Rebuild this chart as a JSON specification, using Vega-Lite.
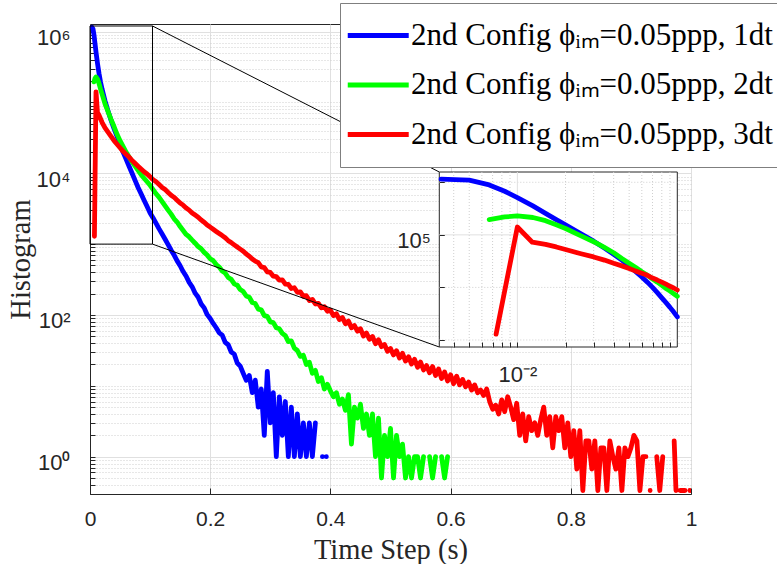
{
  "$schema": "https://vega.github.io/schema/vega-lite/v6.json",
  "width": 601,
  "height": 470,
  "autosize": {"type": "none"},
  "padding": {"left": 90, "top": 24, "right": 86, "bottom": 70},
  "background": "white",
  "config": {
    "view": {"stroke": "#262626", "strokeWidth": 1},
    "axis": {
      "domainColor": "#262626", "tickColor": "#262626", "labelColor": "#262626", "titleColor": "#262626",
      "labelFont": "Liberation Sans", "labelFontSize": 21, "titleFont": "Liberation Serif", "titleFontSize": 28.5,
      "titleFontWeight": "normal", "labelFlush": false, "labelOverlap": false, "labelBound": false
    }
  },
  "datasets": {
    "curves": [
      {"s":"1dt","t":0.00333,"v":1150000},{"s":"1dt","t":0.005,"v":1096000},{"s":"1dt","t":0.00667,"v":891000},{"s":"1dt","t":0.00833,"v":676000},
      {"s":"1dt","t":0.01,"v":513000},{"s":"1dt","t":0.0125,"v":355000},{"s":"1dt","t":0.015,"v":257000},{"s":"1dt","t":0.0175,"v":195000},
      {"s":"1dt","t":0.02,"v":155000},{"s":"1dt","t":0.025,"v":105000},{"s":"1dt","t":0.03,"v":75900},{"s":"1dt","t":0.035,"v":56200},
      {"s":"1dt","t":0.04,"v":42700},{"s":"1dt","t":0.045,"v":33100},{"s":"1dt","t":0.05,"v":25700},{"s":"1dt","t":0.055,"v":19950},
      {"s":"1dt","t":0.06,"v":15850},{"s":"1dt","t":0.065,"v":12590},{"s":"1dt","t":0.07,"v":10000},{"s":"1dt","t":0.075,"v":7940},
      {"s":"1dt","t":0.08,"v":6310},{"s":"1dt","t":0.085,"v":5130},{"s":"1dt","t":0.09,"v":4170},{"s":"1dt","t":0.095,"v":3390},
      {"s":"1dt","t":0.1,"v":2750},{"s":"1dt","t":0.105,"v":2340},{"s":"1dt","t":0.11,"v":1960},{"s":"1dt","t":0.115,"v":1640},
      {"s":"1dt","t":0.12,"v":1390},{"s":"1dt","t":0.125,"v":1170},{"s":"1dt","t":0.13,"v":985},{"s":"1dt","t":0.135,"v":820},
      {"s":"1dt","t":0.14,"v":700},{"s":"1dt","t":0.145,"v":580},{"s":"1dt","t":0.15,"v":495},{"s":"1dt","t":0.155,"v":410},
      {"s":"1dt","t":0.16,"v":352},{"s":"1dt","t":0.165,"v":288},{"s":"1dt","t":0.17,"v":250},{"s":"1dt","t":0.175,"v":203},
      {"s":"1dt","t":0.18,"v":178},{"s":"1dt","t":0.185,"v":143},{"s":"1dt","t":0.19,"v":126},{"s":"1dt","t":0.195,"v":101},
      {"s":"1dt","t":0.2,"v":89},{"s":"1dt","t":0.205,"v":76},{"s":"1dt","t":0.21,"v":66},{"s":"1dt","t":0.215,"v":56},
      {"s":"1dt","t":0.22,"v":52},{"s":"1dt","t":0.225,"v":41},{"s":"1dt","t":0.23,"v":38},{"s":"1dt","t":0.235,"v":30},
      {"s":"1dt","t":0.24,"v":28},{"s":"1dt","t":0.245,"v":21},{"s":"1dt","t":0.25,"v":19},{"s":"1dt","t":0.255,"v":15},
      {"s":"1dt","t":0.26,"v":12},{"s":"1dt","t":0.265,"v":14},{"s":"1dt","t":0.27,"v":8},{"s":"1dt","t":0.275,"v":12},
      {"s":"1dt","t":0.28,"v":5},{"s":"1dt","t":0.285,"v":9},{"s":"1dt","t":0.29,"v":2},{"s":"1dt","t":0.295,"v":16},
      {"s":"1dt","t":0.3,"v":3},{"s":"1dt","t":0.305,"v":8},{"s":"1dt","t":0.31,"v":1},{"s":"1dt","t":0.315,"v":7},
      {"s":"1dt","t":0.32,"v":2},{"s":"1dt","t":0.325,"v":6},{"s":"1dt","t":0.33,"v":1},{"s":"1dt","t":0.335,"v":5},
      {"s":"1dt","t":0.34,"v":1},{"s":"1dt","t":0.345,"v":4},{"s":"1dt","t":0.35,"v":1},{"s":"1dt","t":0.355,"v":3},
      {"s":"1dt","t":0.36,"v":1},{"s":"1dt","t":0.365,"v":3},{"s":"1dt","t":0.37,"v":1},{"s":"1dt","t":0.375,"v":3},
      {"s":"1dt","t":0.38,"v":null},{"s":"1dt","t":0.3867,"v":1},{"s":"1dt","t":0.39,"v":null},{"s":"1dt","t":0.3933,"v":1},

      {"s":"2dt","t":0.00667,"v":195000},{"s":"2dt","t":0.00833,"v":219000},{"s":"2dt","t":0.01,"v":229000},{"s":"2dt","t":0.0125,"v":214000},
      {"s":"2dt","t":0.015,"v":186000},{"s":"2dt","t":0.0175,"v":155000},{"s":"2dt","t":0.02,"v":132000},{"s":"2dt","t":0.025,"v":95500},
      {"s":"2dt","t":0.03,"v":74100},{"s":"2dt","t":0.035,"v":57500},{"s":"2dt","t":0.04,"v":45700},{"s":"2dt","t":0.045,"v":35500},
      {"s":"2dt","t":0.05,"v":28800},{"s":"2dt","t":0.055,"v":24000},{"s":"2dt","t":0.06,"v":19950},{"s":"2dt","t":0.065,"v":17000},
      {"s":"2dt","t":0.07,"v":14450},{"s":"2dt","t":0.075,"v":12590},{"s":"2dt","t":0.08,"v":10960},{"s":"2dt","t":0.085,"v":9550},
      {"s":"2dt","t":0.09,"v":8510},{"s":"2dt","t":0.095,"v":7590},{"s":"2dt","t":0.1,"v":6760},{"s":"2dt","t":0.105,"v":5890},
      {"s":"2dt","t":0.11,"v":5130},{"s":"2dt","t":0.115,"v":4570},{"s":"2dt","t":0.12,"v":3980},{"s":"2dt","t":0.125,"v":3470},
      {"s":"2dt","t":0.13,"v":3020},{"s":"2dt","t":0.135,"v":2650},{"s":"2dt","t":0.14,"v":2280},{"s":"2dt","t":0.145,"v":2050},
      {"s":"2dt","t":0.15,"v":1770},{"s":"2dt","t":0.155,"v":1560},{"s":"2dt","t":0.16,"v":1370},{"s":"2dt","t":0.165,"v":1270},
      {"s":"2dt","t":0.17,"v":1140},{"s":"2dt","t":0.175,"v":1030},{"s":"2dt","t":0.18,"v":925},{"s":"2dt","t":0.185,"v":860},
      {"s":"2dt","t":0.19,"v":765},{"s":"2dt","t":0.195,"v":700},{"s":"2dt","t":0.2,"v":622},{"s":"2dt","t":0.205,"v":585},
      {"s":"2dt","t":0.21,"v":515},{"s":"2dt","t":0.215,"v":475},{"s":"2dt","t":0.22,"v":418},{"s":"2dt","t":0.225,"v":390},
      {"s":"2dt","t":0.23,"v":338},{"s":"2dt","t":0.235,"v":318},{"s":"2dt","t":0.24,"v":275},{"s":"2dt","t":0.245,"v":263},
      {"s":"2dt","t":0.25,"v":228},{"s":"2dt","t":0.255,"v":214},{"s":"2dt","t":0.26,"v":185},{"s":"2dt","t":0.265,"v":178},
      {"s":"2dt","t":0.27,"v":150},{"s":"2dt","t":0.275,"v":145},{"s":"2dt","t":0.28,"v":121},{"s":"2dt","t":0.285,"v":118},
      {"s":"2dt","t":0.29,"v":98},{"s":"2dt","t":0.295,"v":95.5},{"s":"2dt","t":0.3,"v":80},{"s":"2dt","t":0.305,"v":78},
      {"s":"2dt","t":0.31,"v":66},{"s":"2dt","t":0.315,"v":64},{"s":"2dt","t":0.32,"v":55},{"s":"2dt","t":0.325,"v":51},
      {"s":"2dt","t":0.33,"v":42},{"s":"2dt","t":0.335,"v":43},{"s":"2dt","t":0.34,"v":34},{"s":"2dt","t":0.345,"v":31.5},
      {"s":"2dt","t":0.35,"v":26},{"s":"2dt","t":0.355,"v":27},{"s":"2dt","t":0.36,"v":20},{"s":"2dt","t":0.365,"v":21.5},
      {"s":"2dt","t":0.37,"v":15},{"s":"2dt","t":0.375,"v":16.5},{"s":"2dt","t":0.38,"v":11.5},{"s":"2dt","t":0.385,"v":13},
      {"s":"2dt","t":0.39,"v":9},{"s":"2dt","t":0.395,"v":10.5},{"s":"2dt","t":0.4,"v":8.5},{"s":"2dt","t":0.405,"v":7},
      {"s":"2dt","t":0.41,"v":8},{"s":"2dt","t":0.415,"v":5.5},{"s":"2dt","t":0.42,"v":6.5},{"s":"2dt","t":0.425,"v":4.5},
      {"s":"2dt","t":0.43,"v":7.5},{"s":"2dt","t":0.435,"v":1.5},{"s":"2dt","t":0.44,"v":5},{"s":"2dt","t":0.445,"v":3.5},
      {"s":"2dt","t":0.45,"v":5.5},{"s":"2dt","t":0.455,"v":2.5},{"s":"2dt","t":0.46,"v":4},{"s":"2dt","t":0.465,"v":2},
      {"s":"2dt","t":0.47,"v":4},{"s":"2dt","t":0.475,"v":1},{"s":"2dt","t":0.48,"v":3.5},{"s":"2dt","t":0.485,"v":0.5},
      {"s":"2dt","t":0.49,"v":2},{"s":"2dt","t":0.495,"v":1},{"s":"2dt","t":0.5,"v":2.5},{"s":"2dt","t":0.505,"v":0.5},
      {"s":"2dt","t":0.51,"v":2},{"s":"2dt","t":0.515,"v":1},{"s":"2dt","t":0.52,"v":1.5},{"s":"2dt","t":0.525,"v":0.5},
      {"s":"2dt","t":0.53,"v":1},{"s":"2dt","t":0.535,"v":0.5},{"s":"2dt","t":0.54,"v":1},{"s":"2dt","t":0.545,"v":1},
      {"s":"2dt","t":0.55,"v":0.5},{"s":"2dt","t":0.555,"v":1},{"s":"2dt","t":0.56,"v":null},{"s":"2dt","t":0.565,"v":1},
      {"s":"2dt","t":0.57,"v":0.5},{"s":"2dt","t":0.575,"v":1},{"s":"2dt","t":0.58,"v":null},{"s":"2dt","t":0.585,"v":1},
      {"s":"2dt","t":0.59,"v":0.5},{"s":"2dt","t":0.595,"v":1},

      {"s":"3dt","t":0.00736,"v":1290},{"s":"3dt","t":0.01,"v":141000},{"s":"3dt","t":0.0124,"v":72400},{"s":"3dt","t":0.015,"v":66100},
      {"s":"3dt","t":0.0175,"v":58900},{"s":"3dt","t":0.02,"v":52500},{"s":"3dt","t":0.025,"v":43700},{"s":"3dt","t":0.03,"v":38000},
      {"s":"3dt","t":0.035,"v":33100},{"s":"3dt","t":0.04,"v":28800},{"s":"3dt","t":0.045,"v":25700},{"s":"3dt","t":0.05,"v":22900},
      {"s":"3dt","t":0.055,"v":20400},{"s":"3dt","t":0.06,"v":18600},{"s":"3dt","t":0.065,"v":17000},{"s":"3dt","t":0.07,"v":15100},
      {"s":"3dt","t":0.075,"v":13800},{"s":"3dt","t":0.08,"v":12600},{"s":"3dt","t":0.085,"v":11500},{"s":"3dt","t":0.09,"v":10500},
      {"s":"3dt","t":0.095,"v":9770},{"s":"3dt","t":0.1,"v":8910},{"s":"3dt","t":0.105,"v":8130},{"s":"3dt","t":0.11,"v":7590},
      {"s":"3dt","t":0.115,"v":6920},{"s":"3dt","t":0.12,"v":6310},{"s":"3dt","t":0.125,"v":5890},{"s":"3dt","t":0.13,"v":5370},
      {"s":"3dt","t":0.135,"v":4900},{"s":"3dt","t":0.14,"v":4570},{"s":"3dt","t":0.145,"v":4170},{"s":"3dt","t":0.15,"v":3800},
      {"s":"3dt","t":0.155,"v":3550},{"s":"3dt","t":0.16,"v":3240},{"s":"3dt","t":0.165,"v":3020},{"s":"3dt","t":0.17,"v":2750},
      {"s":"3dt","t":0.175,"v":2570},{"s":"3dt","t":0.18,"v":2400},{"s":"3dt","t":0.185,"v":2190},{"s":"3dt","t":0.19,"v":2040},
      {"s":"3dt","t":0.195,"v":1860},{"s":"3dt","t":0.2,"v":1740},{"s":"3dt","t":0.205,"v":1620},{"s":"3dt","t":0.21,"v":1510},
      {"s":"3dt","t":0.215,"v":1410},{"s":"3dt","t":0.22,"v":1320},{"s":"3dt","t":0.225,"v":1230},{"s":"3dt","t":0.23,"v":1120},
      {"s":"3dt","t":0.235,"v":1050},{"s":"3dt","t":0.24,"v":977},{"s":"3dt","t":0.245,"v":912},{"s":"3dt","t":0.25,"v":851},
      {"s":"3dt","t":0.255,"v":794},{"s":"3dt","t":0.26,"v":724},{"s":"3dt","t":0.265,"v":676},{"s":"3dt","t":0.27,"v":617},
      {"s":"3dt","t":0.275,"v":575},{"s":"3dt","t":0.28,"v":548},{"s":"3dt","t":0.285,"v":478},{"s":"3dt","t":0.29,"v":466},
      {"s":"3dt","t":0.295,"v":405},{"s":"3dt","t":0.3,"v":398},{"s":"3dt","t":0.305,"v":352},{"s":"3dt","t":0.31,"v":347},
      {"s":"3dt","t":0.315,"v":310},{"s":"3dt","t":0.32,"v":312},{"s":"3dt","t":0.325,"v":272},{"s":"3dt","t":0.33,"v":270},
      {"s":"3dt","t":0.335,"v":236},{"s":"3dt","t":0.34,"v":242},{"s":"3dt","t":0.345,"v":209},{"s":"3dt","t":0.35,"v":212},
      {"s":"3dt","t":0.355,"v":183},{"s":"3dt","t":0.36,"v":187},{"s":"3dt","t":0.365,"v":160},{"s":"3dt","t":0.37,"v":166},
      {"s":"3dt","t":0.375,"v":143},{"s":"3dt","t":0.38,"v":146},{"s":"3dt","t":0.385,"v":126},{"s":"3dt","t":0.39,"v":131},
      {"s":"3dt","t":0.395,"v":113},{"s":"3dt","t":0.4,"v":117},{"s":"3dt","t":0.405,"v":98},{"s":"3dt","t":0.41,"v":104},
      {"s":"3dt","t":0.415,"v":86},{"s":"3dt","t":0.42,"v":92},{"s":"3dt","t":0.425,"v":75},{"s":"3dt","t":0.43,"v":82},
      {"s":"3dt","t":0.435,"v":66},{"s":"3dt","t":0.44,"v":71},{"s":"3dt","t":0.445,"v":59},{"s":"3dt","t":0.45,"v":64},
      {"s":"3dt","t":0.455,"v":50.3},{"s":"3dt","t":0.46,"v":55.7},{"s":"3dt","t":0.465,"v":45.3},{"s":"3dt","t":0.47,"v":49.7},
      {"s":"3dt","t":0.475,"v":39.3},{"s":"3dt","t":0.48,"v":44.7},{"s":"3dt","t":0.485,"v":35.7},{"s":"3dt","t":0.49,"v":38.3},
      {"s":"3dt","t":0.495,"v":30.7},{"s":"3dt","t":0.5,"v":33.7},{"s":"3dt","t":0.505,"v":27.3},{"s":"3dt","t":0.51,"v":31.3},
      {"s":"3dt","t":0.515,"v":24.7},{"s":"3dt","t":0.52,"v":28.7},{"s":"3dt","t":0.525,"v":22.3},{"s":"3dt","t":0.53,"v":25.7},
      {"s":"3dt","t":0.535,"v":20.3},{"s":"3dt","t":0.54,"v":23.7},{"s":"3dt","t":0.545,"v":18.3},{"s":"3dt","t":0.55,"v":21.7},
      {"s":"3dt","t":0.555,"v":16.7},{"s":"3dt","t":0.56,"v":19.3},{"s":"3dt","t":0.565,"v":15.3},{"s":"3dt","t":0.57,"v":18.7},
      {"s":"3dt","t":0.575,"v":14},{"s":"3dt","t":0.58,"v":17.3},{"s":"3dt","t":0.585,"v":12.7},{"s":"3dt","t":0.59,"v":15.7},
      {"s":"3dt","t":0.595,"v":11.7},{"s":"3dt","t":0.6,"v":14.3},{"s":"3dt","t":0.605,"v":10.7},{"s":"3dt","t":0.61,"v":13.7},
      {"s":"3dt","t":0.615,"v":10.3},{"s":"3dt","t":0.62,"v":12.3},{"s":"3dt","t":0.625,"v":9.7},{"s":"3dt","t":0.63,"v":11.3},
      {"s":"3dt","t":0.635,"v":8.7},{"s":"3dt","t":0.64,"v":10.3},{"s":"3dt","t":0.645,"v":8},{"s":"3dt","t":0.65,"v":8.7},
      {"s":"3dt","t":0.655,"v":7.3},{"s":"3dt","t":0.66,"v":9},{"s":"3dt","t":0.665,"v":6},{"s":"3dt","t":0.67,"v":4.67},
      {"s":"3dt","t":0.675,"v":5.33},{"s":"3dt","t":0.68,"v":4},{"s":"3dt","t":0.685,"v":6.33},{"s":"3dt","t":0.69,"v":4.33},
      {"s":"3dt","t":0.695,"v":7},{"s":"3dt","t":0.7,"v":5},{"s":"3dt","t":0.705,"v":3.33},{"s":"3dt","t":0.71,"v":5.67},
      {"s":"3dt","t":0.715,"v":2},{"s":"3dt","t":0.72,"v":4},{"s":"3dt","t":0.725,"v":1.67},{"s":"3dt","t":0.73,"v":3.67},
      {"s":"3dt","t":0.735,"v":2.33},{"s":"3dt","t":0.74,"v":3},{"s":"3dt","t":0.745,"v":2},{"s":"3dt","t":0.75,"v":3.33},
      {"s":"3dt","t":0.755,"v":5},{"s":"3dt","t":0.76,"v":2},{"s":"3dt","t":0.765,"v":3.67},{"s":"3dt","t":0.77,"v":1.33},
      {"s":"3dt","t":0.775,"v":3.67},{"s":"3dt","t":0.78,"v":2.33},{"s":"3dt","t":0.785,"v":3.67},{"s":"3dt","t":0.79,"v":1.33},
      {"s":"3dt","t":0.795,"v":3},{"s":"3dt","t":0.8,"v":1},{"s":"3dt","t":0.805,"v":2.33},{"s":"3dt","t":0.81,"v":0.667},
      {"s":"3dt","t":0.815,"v":2.33},{"s":"3dt","t":0.82,"v":0.333},{"s":"3dt","t":0.825,"v":1.67},{"s":"3dt","t":0.83,"v":1.67},
      {"s":"3dt","t":0.835,"v":0.667},{"s":"3dt","t":0.84,"v":1.67},{"s":"3dt","t":0.845,"v":0.333},{"s":"3dt","t":0.85,"v":1.33},
      {"s":"3dt","t":0.855,"v":1.33},{"s":"3dt","t":0.86,"v":0.333},{"s":"3dt","t":0.865,"v":1.67},{"s":"3dt","t":0.87,"v":1},
      {"s":"3dt","t":0.875,"v":0.667},{"s":"3dt","t":0.88,"v":1.33},{"s":"3dt","t":0.885,"v":0.333},{"s":"3dt","t":0.89,"v":1.33},
      {"s":"3dt","t":0.895,"v":1},{"s":"3dt","t":0.9,"v":1.33},{"s":"3dt","t":0.905,"v":2},{"s":"3dt","t":0.91,"v":1.67},
      {"s":"3dt","t":0.915,"v":0.333},{"s":"3dt","t":0.92,"v":1},{"s":"3dt","t":0.925,"v":1},{"s":"3dt","t":0.929,"v":null},
      {"s":"3dt","t":0.932,"v":0.333},{"s":"3dt","t":0.936,"v":null},{"s":"3dt","t":0.943,"v":1},{"s":"3dt","t":0.948,"v":0.333},
      {"s":"3dt","t":0.953,"v":1},{"s":"3dt","t":0.958,"v":null},{"s":"3dt","t":0.972,"v":1.67},{"s":"3dt","t":0.975,"v":0.333},
      {"s":"3dt","t":0.978,"v":null},{"s":"3dt","t":0.982,"v":0.333},{"s":"3dt","t":0.99,"v":0.333},{"s":"3dt","t":0.994,"v":null},
      {"s":"3dt","t":0.998,"v":0.333}
    ]
  },
  "layer": [
    {
      "layer": [
        {
          "data": {"name": "curves"},
          "mark": {"type": "line", "strokeWidth": 4.8, "strokeJoin": "round", "strokeCap": "round", "invalid": "break-paths-filter-domains", "clip": true},
          "encoding": {
            "x": {"field": "t", "type": "quantitative",
                  "scale": {"domain": [0, 1], "nice": false, "zero": false},
                  "axis": {"values": [0, 0.2, 0.4, 0.6, 0.8, 1], "format": "~g", "tickSize": -6, "labelPadding": 20,
                           "grid": true, "gridColor": "#e0e0e0", "title": "Time Step (s)", "titlePadding": 6}},
            "y": {"field": "v", "type": "quantitative",
                  "scale": {"type": "log", "domain": [0.297, 1280000], "nice": false},
                  "axis": {
                    "values": [0.3,0.4,0.5,0.6,0.7,0.8,0.9,1,2,3,4,5,6,7,8,9,10,20,30,40,50,60,70,80,90,100,200,300,400,500,600,700,800,900,1000,2000,3000,4000,5000,6000,7000,8000,9000,10000,20000,30000,40000,50000,60000,70000,80000,90000,100000,200000,300000,400000,500000,600000,700000,800000,900000,1000000],
                    "labelExpr": "datum.value==1?'10⁰':datum.value==100?'10²':datum.value==10000?'10⁴':datum.value==1000000?'10⁶':''",
                    "labelFontSize": 22,
                    "tickSize": -5, "labelPadding": 25, "labelOffset": 6,
                    "grid": true,
                    "gridColor": {"condition": {"test": "datum.value==1||datum.value==100||datum.value==10000||datum.value==1000000", "value": "#e0e0e0"}, "value": "#cfcfcf"},
                    "gridDash": {"condition": {"test": "datum.value==1||datum.value==100||datum.value==10000||datum.value==1000000", "value": []}, "value": [1, 2]},
                    "title": "Histogram", "titlePadding": 1}},
            "color": {"field": "s", "type": "nominal",
                      "scale": {"domain": ["1dt", "2dt", "3dt"], "range": ["#0000ff", "#00ff00", "#ff0000"]},
                      "legend": {"orient": "none", "legendX": 250, "legendY": -21, "title": null,
                                 "labelExpr": "'2nd Config ϕᵢₘ=0.05ppp, ' + datum.label",
                                 "labelFont": "Liberation Serif", "labelFontSize": 31, "labelColor": "black", "labelLimit": 0,
                                 "symbolType": "M-3.3,0H4.83", "symbolStrokeWidth": 4.8, "symbolSize": 225,
                                 "fillColor": "white", "strokeColor": "#7f7f7f", "padding": 17, "rowPadding": 17.5, "labelOffset": 23}}
          }
        },
        {
          "data": {"values": [{}]},
          "mark": {"type": "rect", "fill": null, "fillOpacity": 0, "stroke": "black", "strokeWidth": 1},
          "encoding": {
            "x": {"datum": 0, "type": "quantitative"},
            "x2": {"datum": 0.104},
            "y": {"datum": 1000, "type": "quantitative"},
            "y2": {"datum": 1200000}
          }
        },
        {
          "data": {"values": [{"a": 0.104, "b": 1200000, "c": 0.5812, "d": 10420}, {"a": 0.104, "b": 1000, "c": 0.5812, "d": 35.3}]},
          "mark": {"type": "rule", "stroke": "black", "strokeWidth": 1},
          "encoding": {
            "x": {"field": "a", "type": "quantitative"},
            "y": {"field": "b", "type": "quantitative"},
            "x2": {"field": "c"},
            "y2": {"field": "d"}
          }
        }
      ]
    },
    {
      "layer": [
        {
          "data": {"values": [{}]},
          "mark": {"type": "rect", "fill": "white", "stroke": "#262626", "strokeWidth": 1},
          "encoding": {
            "x": {"datum": 0.00325, "type": "quantitative",
                  "scale": {"type": "log", "domain": [0.00325, 0.1], "range": [349.3, 587.3], "nice": false},
                  "axis": {"orient": "bottom", "offset": -147, "values": [0.004,0.005,0.006,0.007,0.008,0.009,0.01,0.02,0.03,0.04,0.05,0.06,0.07,0.08,0.09],
                           "labelExpr": "datum.value==0.01?'10⁻²':''", "labelFontSize": 22, "tickSize": -5, "labelPadding": 22, "domain": false, "grid": false,
                           "title": null, "zindex": 1}},
            "x2": {"datum": 0.1},
            "y": {"datum": 735, "type": "quantitative",
                  "scale": {"type": "log", "domain": [735, 1570000], "range": [323, 148], "nice": false},
                  "axis": {"orient": "left", "offset": -349.3, "values": [1000, 10000, 100000, 1000000],
                           "labelExpr": "datum.value==100000?'10⁵':''", "labelFontSize": 22, "tickSize": -5, "labelPadding": 14, "labelOffset": 6,
                           "domain": false, "grid": false, "title": null, "zindex": 1}},
            "y2": {"datum": 1570000}
          }
        },
        {
          "data": {"values": [{"g":0.004},{"g":0.005},{"g":0.006},{"g":0.007},{"g":0.008},{"g":0.009},{"g":0.02},{"g":0.03},{"g":0.04},{"g":0.05},{"g":0.06},{"g":0.07},{"g":0.08},{"g":0.09}]},
          "mark": {"type": "rule", "stroke": "#cfcfcf", "strokeWidth": 1, "strokeDash": [1, 2]},
          "encoding": {"x": {"field": "g", "type": "quantitative"}, "y": {"datum": 735}, "y2": {"datum": 1570000}}
        },
        {
          "data": {"values": [{"g":1000},{"g":10000},{"g":1000000}]},
          "mark": {"type": "rule", "stroke": "#cfcfcf", "strokeWidth": 1, "strokeDash": [1, 2]},
          "encoding": {"y": {"field": "g", "type": "quantitative"}, "x": {"datum": 0.00325}, "x2": {"datum": 0.1}}
        },
        {
          "data": {"values": [{"g":0.01}]},
          "mark": {"type": "rule", "stroke": "#e0e0e0", "strokeWidth": 1},
          "encoding": {"x": {"field": "g", "type": "quantitative"}, "y": {"datum": 735}, "y2": {"datum": 1570000}}
        },
        {
          "data": {"values": [{"g":100000}]},
          "mark": {"type": "rule", "stroke": "#e0e0e0", "strokeWidth": 1},
          "encoding": {"y": {"field": "g", "type": "quantitative"}, "x": {"datum": 0.00325}, "x2": {"datum": 0.1}}
        },
        {
          "data": {"name": "curves"},
          "transform": [{"filter": "datum.t <= 0.1"}],
          "mark": {"type": "line", "strokeWidth": 4.8, "strokeJoin": "round", "strokeCap": "round"},
          "encoding": {
            "x": {"field": "t", "type": "quantitative"},
            "y": {"field": "v", "type": "quantitative"},
            "color": {"field": "s", "type": "nominal", "legend": null}
          }
        }
      ]
    }
  ],
  "resolve": {"scale": {"x": "independent", "y": "independent"}, "axis": {"x": "independent", "y": "independent"}}
}
